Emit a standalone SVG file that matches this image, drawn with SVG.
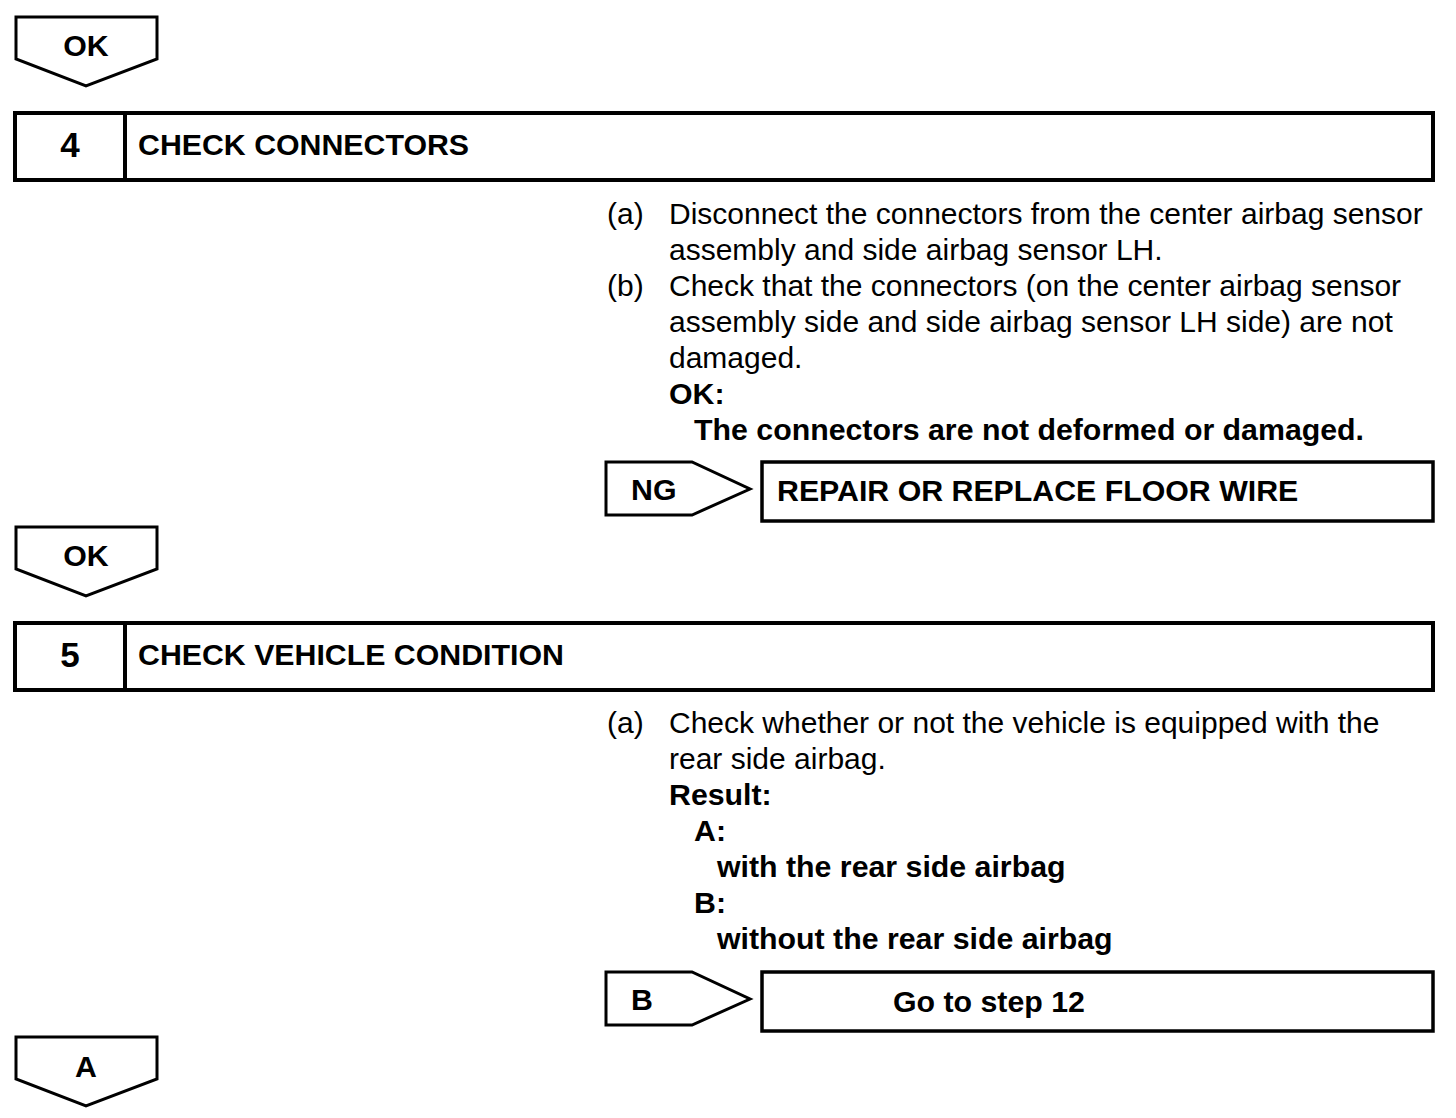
<svg xmlns="http://www.w3.org/2000/svg" width="1456" height="1118" viewBox="0 0 1456 1118">
<style>
text{font-family:"Liberation Sans",Arial,sans-serif;font-size:30px;fill:#000}
.b{font-weight:bold;font-size:30.3px}
.n{font-weight:bold;font-size:35px}
.m{text-anchor:middle}
.flow{fill:#fff;stroke:#000;stroke-width:3;stroke-linejoin:miter}
.hdr{fill:#fff;stroke:#000;stroke-width:4}
.res{fill:#fff;stroke:#000;stroke-width:3.5}
</style>
<rect width="1456" height="1118" fill="#fff"/>
<g id="ok1">
<polygon class="flow" points="16,17 157,17 157,59 86,86 16,59"/>
<text class="b m" x="86" y="56">OK</text>
</g>
<g id="step4">
<rect class="hdr" x="15" y="113" width="1418" height="67"/>
<line x1="125" y1="113" x2="125" y2="180" stroke="#000" stroke-width="4"/>
<text class="n m" x="70" y="157">4</text>
<text class="b" x="138" y="155">CHECK CONNECTORS</text>
</g>
<g id="step4-text">
<text x="607" y="224">(a)</text>
<text x="669" y="224">Disconnect the connectors from the center airbag sensor</text>
<text x="669" y="260">assembly and side airbag sensor LH.</text>
<text x="607" y="296">(b)</text>
<text x="669" y="296">Check that the connectors (on the center airbag sensor</text>
<text x="669" y="332">assembly side and side airbag sensor LH side) are not</text>
<text x="669" y="368">damaged.</text>
<text class="b" x="669" y="404">OK:</text>
<text class="b" x="694" y="440">The connectors are not deformed or damaged.</text>
</g>
<g id="ng">
<polygon class="flow" points="606,462 692,462 750,489 692,515 606,515"/>
<text class="b" x="631" y="500">NG</text>
</g>
<g id="repair">
<rect class="res" x="762" y="462" width="671" height="59"/>
<text class="b" x="777" y="501">REPAIR OR REPLACE FLOOR WIRE</text>
</g>
<g id="ok2">
<polygon class="flow" points="16,527 157,527 157,569 86,596 16,569"/>
<text class="b m" x="86" y="566">OK</text>
</g>
<g id="step5">
<rect class="hdr" x="15" y="623" width="1418" height="67"/>
<line x1="125" y1="623" x2="125" y2="690" stroke="#000" stroke-width="4"/>
<text class="n m" x="70" y="667">5</text>
<text class="b" x="138" y="665">CHECK VEHICLE CONDITION</text>
</g>
<g id="step5-text">
<text x="607" y="733">(a)</text>
<text x="669" y="733">Check whether or not the vehicle is equipped with the</text>
<text x="669" y="769">rear side airbag.</text>
<text class="b" x="669" y="805">Result:</text>
<text class="b" x="694" y="841">A:</text>
<text class="b" x="717" y="877">with the rear side airbag</text>
<text class="b" x="694" y="913">B:</text>
<text class="b" x="717" y="949">without the rear side airbag</text>
</g>
<g id="b">
<polygon class="flow" points="606,972 692,972 750,999 692,1025 606,1025"/>
<text class="b" x="631" y="1010">B</text>
</g>
<g id="goto12">
<rect class="res" x="762" y="972" width="671" height="59"/>
<text class="b" x="893" y="1012">Go to step 12</text>
</g>
<g id="a">
<polygon class="flow" points="16,1037 157,1037 157,1079 86,1106 16,1079"/>
<text class="b m" x="86" y="1077">A</text>
</g>
<g id="connectors"></g>
</svg>
